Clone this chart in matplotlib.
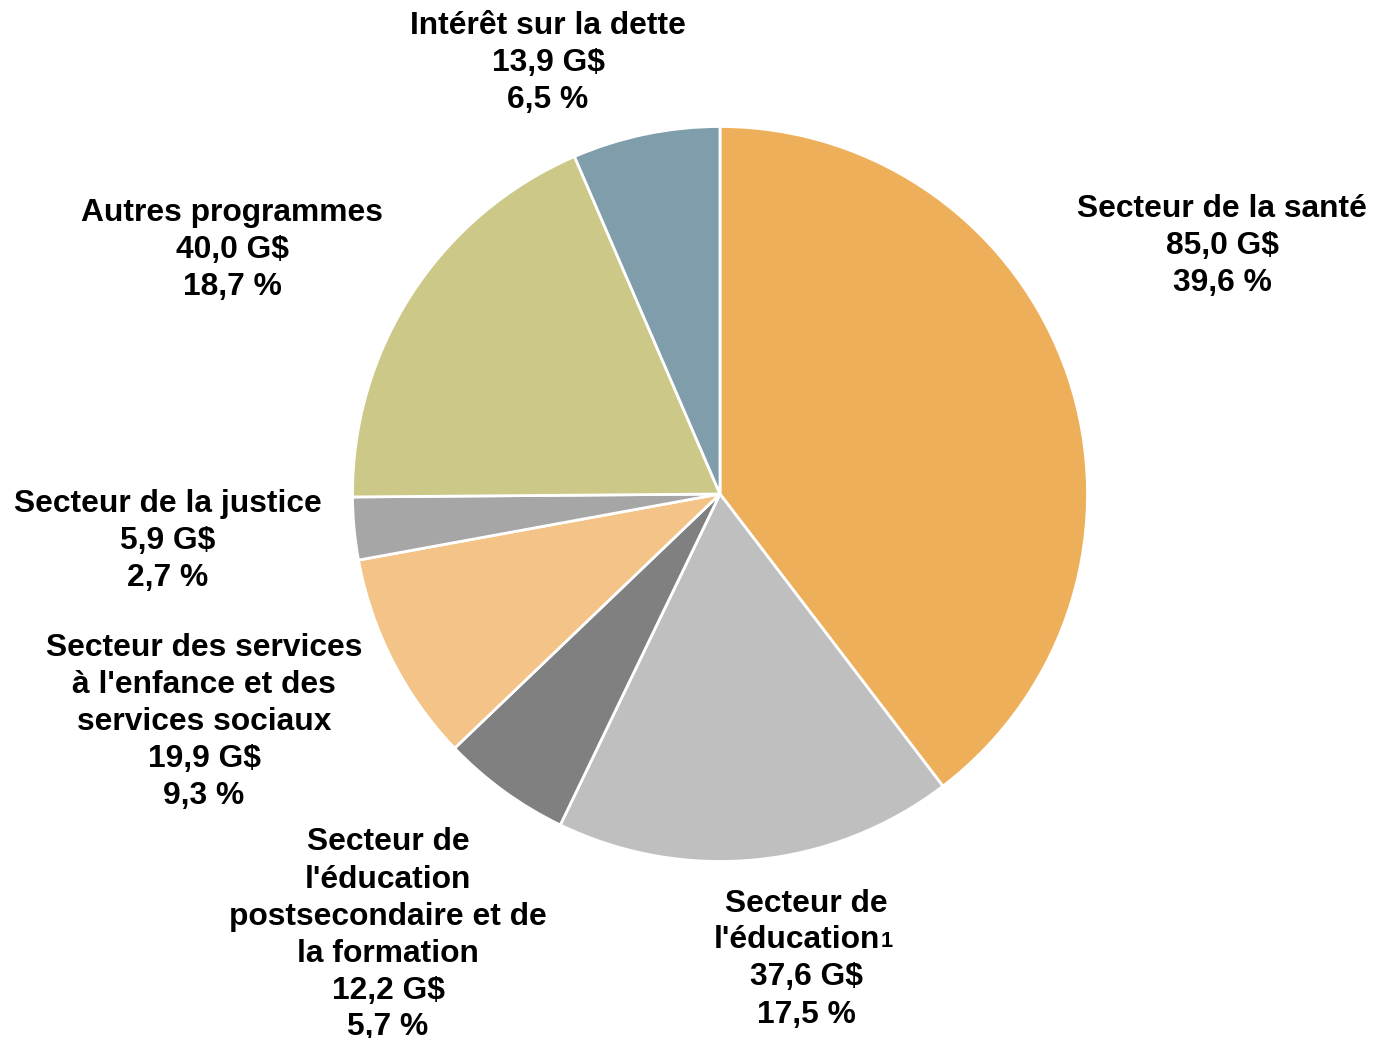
import matplotlib
matplotlib.use("Agg")
import matplotlib.pyplot as plt

categories = ["Secteur de la santé", "Secteur de l'éducation", "Secteur de l'éducation postsecondaire et de la formation",
              "Secteur des services à l'enfance et des services sociaux", "Secteur de la justice",
              "Autres programmes", "Intérêt sur la dette"]
values = [85.0, 37.6, 12.2, 19.9, 5.9, 40.0, 13.9]
percents = ["39,6 %", "17,5 %", "5,7 %", "9,3 %", "2,7 %", "18,7 %", "6,5 %"]
amounts = ["85,0 G$", "37,6 G$", "12,2 G$", "19,9 G$", "5,9 G$", "40,0 G$", "13,9 G$"]
label_lines = [
    ["Secteur de la santé"],
    ["Secteur de", "l'éducation"],
    ["Secteur de", "l'éducation", "postsecondaire et de", "la formation"],
    ["Secteur des services", "à l'enfance et des", "services sociaux"],
    ["Secteur de la justice"],
    ["Autres programmes"],
    ["Intérêt sur la dette"],
]
colors = ["#EEAF5A", "#BFBFBF", "#808080", "#F3C388", "#A6A6A6", "#CCC888", "#7F9DAB"]

# layout (pixels)
W, H = 1374, 1038
CX, CY, R = 720, 494, 367.5
label_pos = [(1222, 246), (806, 959), (388, 935), (204, 722), (168, 541), (232, 250), (548, 63)]
LINE = 37

plt.rcParams['font.family'] = ['Liberation Sans', 'DejaVu Sans']
fig = plt.figure(figsize=(W / 100, H / 100), dpi=100)
ax = fig.add_axes([0, 0, 1, 1])
ax.pie(values, colors=colors, startangle=90, counterclock=False, radius=1,
       wedgeprops=dict(edgecolor="white", linewidth=2))
ax.set_xlim(-CX / R, (W - CX) / R)
ax.set_ylim(-(H - CY) / R, CY / R)
ax.set_aspect('equal')
ax.axis('off')

def px2d(px, py):
    return (px - CX) / R, (CY - py) / R

FS = 22.9
for i, lines in enumerate(label_lines):
    all_lines = lines + [amounts[i], percents[i]]
    n = len(all_lines)
    lx, ly = label_pos[i]
    for j, txt in enumerate(all_lines):
        py = ly + (j - (n - 1) / 2) * LINE
        x, y = px2d(lx, py)
        if i == 1 and txt == "l'éducation":
            t = ax.text(x - 9 / R, y, txt, ha='center', va='center', fontsize=FS, fontweight='bold')
            ax.annotate("1", xy=(1, 0), xycoords=t, xytext=(0.5, 2.5), textcoords='offset points',
                        ha='left', va='bottom', fontsize=FS * 0.68, fontweight='bold')
        else:
            ax.text(x, y, txt, ha='center', va='center', fontsize=FS, fontweight='bold')

fig.savefig("out.png", dpi=100)
